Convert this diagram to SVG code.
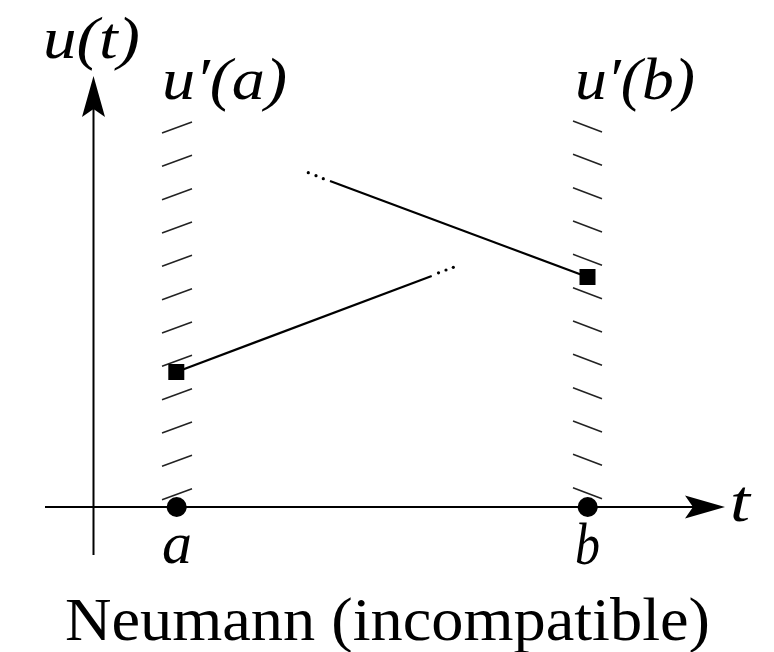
<svg xmlns="http://www.w3.org/2000/svg" xmlns:xlink="http://www.w3.org/1999/xlink" width="774" height="652" viewBox="0 0 774 652">
<style>
.ax{stroke:#000;stroke-width:2;fill:none}
.ln{stroke:#000;stroke-width:2.2;fill:none}
.h{stroke:#222;stroke-width:1.5}
.m{font-family:"Liberation Serif","DejaVu Serif",serif;font-style:italic;font-size:60px;fill:#000}
.r{font-family:"Liberation Serif","DejaVu Serif",serif;font-size:62px;fill:#000}
.dot{fill:#000}
</style>
<defs>
<line id="hl" class="h" x1="0" y1="0" x2="30" y2="-11"/>
<line id="hr" class="h" x1="0" y1="0" x2="29" y2="11"/>
</defs>
<rect width="774" height="652" fill="#fff"/>
<g id="axes">
<line class="ax" x1="45" y1="507" x2="700" y2="507"/>
<path d="M725,507 L685,495.5 L693,507 L685,518.5 Z" fill="#000"/>
<line class="ax" x1="93.5" y1="555" x2="93.5" y2="100"/>
<path d="M93.5,76 L82,117 L93.5,109 L105,117 Z" fill="#000"/>
</g>
<g id="hatch-a">
<use xlink:href="#hl" x="162" y="133"/>
<use xlink:href="#hl" x="162" y="166.3"/>
<use xlink:href="#hl" x="162" y="199.7"/>
<use xlink:href="#hl" x="162" y="233"/>
<use xlink:href="#hl" x="162" y="266.3"/>
<use xlink:href="#hl" x="162" y="299.7"/>
<use xlink:href="#hl" x="162" y="333"/>
<use xlink:href="#hl" x="162" y="366.3"/>
<use xlink:href="#hl" x="162" y="399.7"/>
<use xlink:href="#hl" x="162" y="433"/>
<use xlink:href="#hl" x="162" y="466.3"/>
<use xlink:href="#hl" x="162" y="499.7"/>
</g>
<g id="hatch-b">
<use xlink:href="#hr" x="573" y="121"/>
<use xlink:href="#hr" x="573" y="154.3"/>
<use xlink:href="#hr" x="573" y="187.7"/>
<use xlink:href="#hr" x="573" y="221"/>
<use xlink:href="#hr" x="573" y="254.3"/>
<use xlink:href="#hr" x="573" y="287.7"/>
<use xlink:href="#hr" x="573" y="321"/>
<use xlink:href="#hr" x="573" y="354.3"/>
<use xlink:href="#hr" x="573" y="387.7"/>
<use xlink:href="#hr" x="573" y="421"/>
<use xlink:href="#hr" x="573" y="454.3"/>
<use xlink:href="#hr" x="573" y="487.7"/>
</g>
<g id="connectors">
<line class="ln" x1="176.3" y1="372" x2="431.7" y2="276"/>
<circle class="dot" cx="438.5" cy="272.8" r="1.6"/>
<circle class="dot" cx="446" cy="270" r="1.6"/>
<circle class="dot" cx="453.3" cy="267.3" r="1.6"/>
<line class="ln" x1="330" y1="181" x2="587.5" y2="277"/>
<circle class="dot" cx="308.3" cy="172.7" r="1.6"/>
<circle class="dot" cx="316" cy="175.7" r="1.6"/>
<circle class="dot" cx="323.3" cy="178.7" r="1.6"/>
</g>
<g id="point-a"><circle class="dot" cx="176.7" cy="507" r="10"/></g>
<g id="point-b"><circle class="dot" cx="587.7" cy="507" r="10"/></g>
<g id="square-a"><rect class="dot" x="168.3" y="364" width="16" height="16"/></g>
<g id="square-b"><rect class="dot" x="579.5" y="269" width="16" height="16"/></g>
<g id="labels">
<text class="m" x="43" y="58" textLength="97" lengthAdjust="spacingAndGlyphs">u(t)</text>
<text class="m" x="162" y="99" textLength="125" lengthAdjust="spacingAndGlyphs">u′(a)</text>
<text class="m" x="575" y="99" textLength="120" lengthAdjust="spacingAndGlyphs">u′(b)</text>
<text class="m" x="162" y="563" textLength="30" lengthAdjust="spacingAndGlyphs">a</text>
<text class="m" x="575" y="564" textLength="25" lengthAdjust="spacingAndGlyphs">b</text>
<text class="m" x="730" y="521" textLength="20" lengthAdjust="spacingAndGlyphs">t</text>
<text class="r" x="65" y="640" textLength="645" lengthAdjust="spacingAndGlyphs">Neumann (incompatible)</text>
</g>
</svg>
